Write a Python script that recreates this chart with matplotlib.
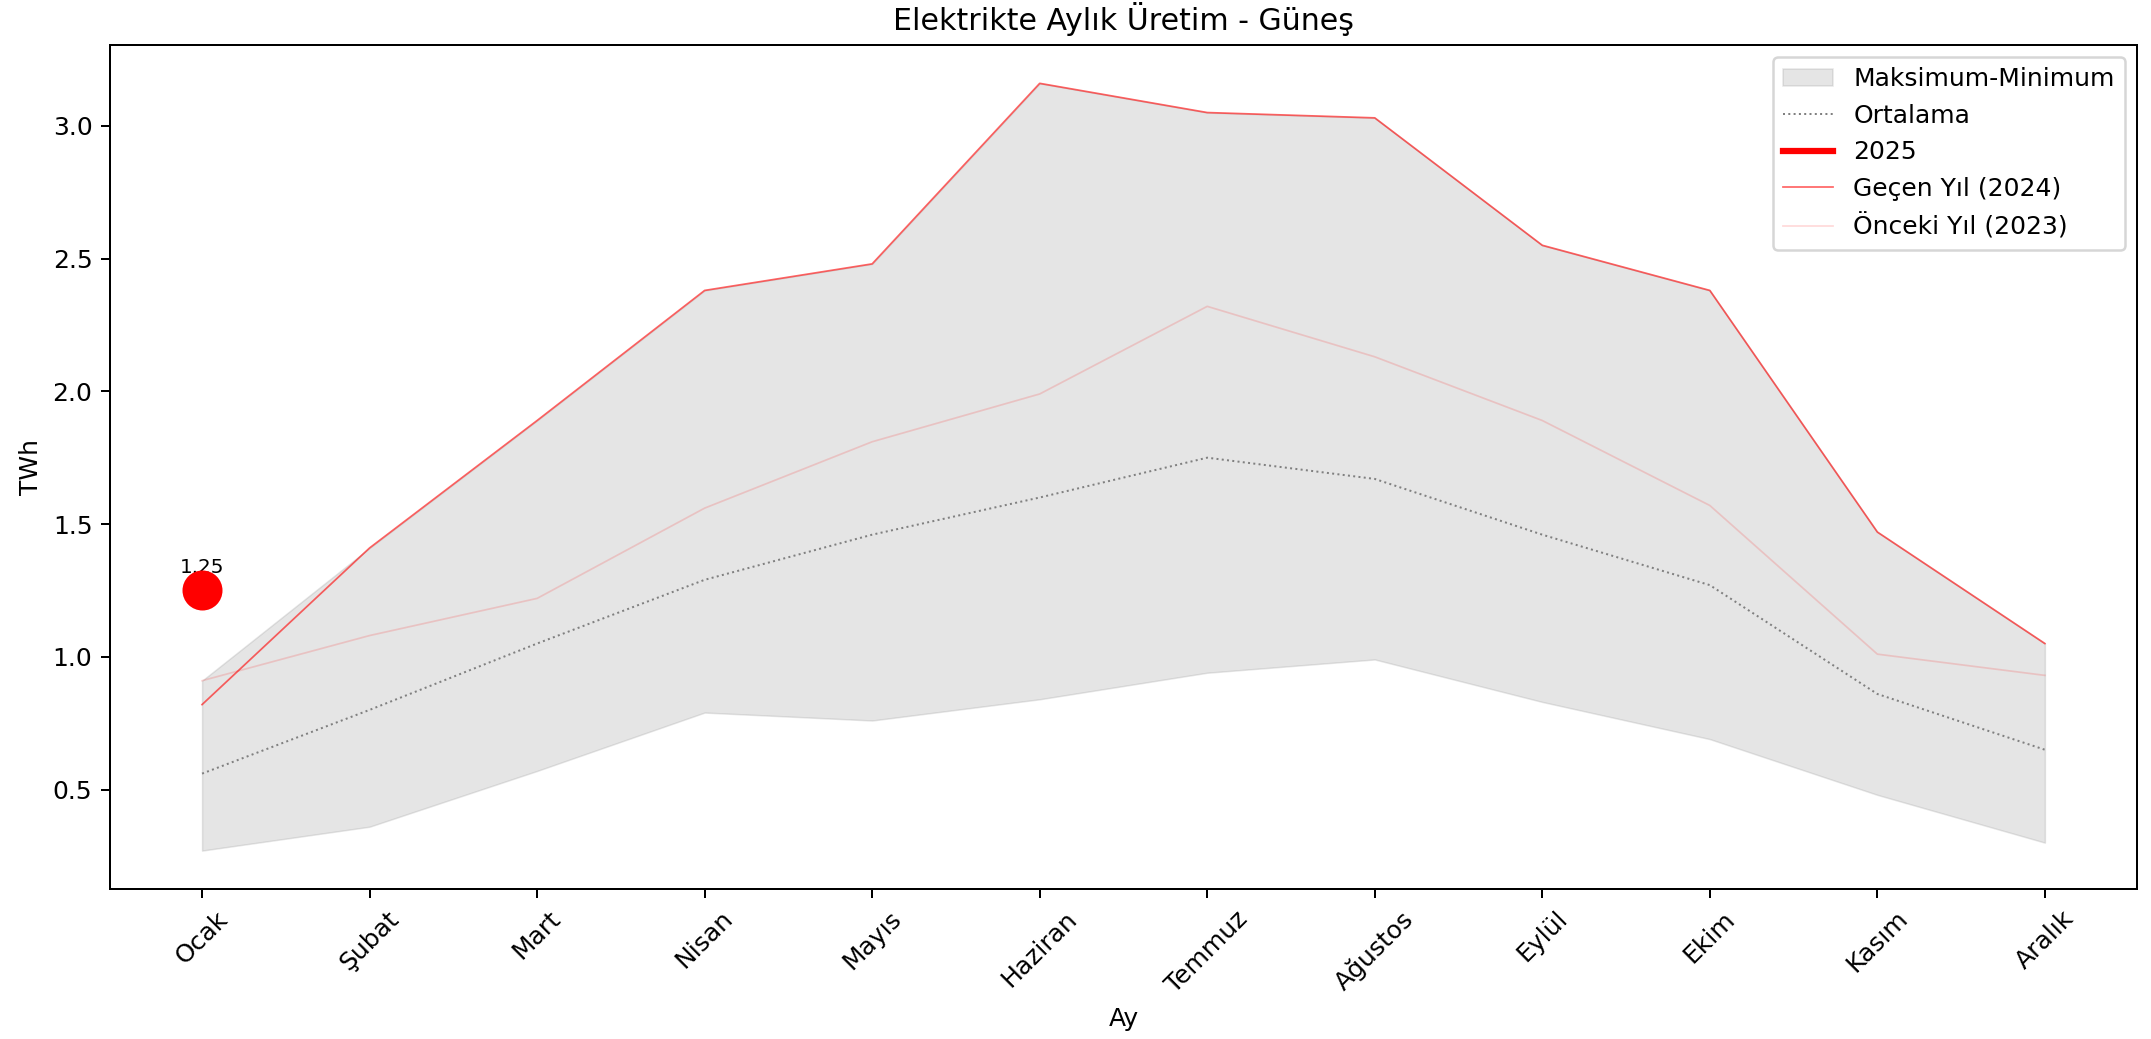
import matplotlib
matplotlib.use("Agg")
import matplotlib.pyplot as plt
import numpy as np

# Aylar
aylar = ['Ocak', 'Şubat', 'Mart', 'Nisan', 'Mayıs', 'Haziran',
         'Temmuz', 'Ağustos', 'Eylül', 'Ekim', 'Kasım', 'Aralık']

# Geçmiş yılların aralığı (TWh)
maksimum = [0.91, 1.41, 1.89, 2.38, 2.48, 3.16, 3.05, 3.03, 2.55, 2.38, 1.47, 1.05]
minimum = [0.27, 0.36, 0.57, 0.79, 0.76, 0.84, 0.94, 0.99, 0.83, 0.69, 0.48, 0.30]
ortalama = [0.56, 0.80, 1.05, 1.29, 1.46, 1.60, 1.75, 1.67, 1.46, 1.27, 0.86, 0.65]

# Yıllık seriler
yil_2025 = [1.25]
yil_2024 = [0.82, 1.41, 1.89, 2.38, 2.48, 3.16, 3.05, 3.03, 2.55, 2.38, 1.47, 1.05]
yil_2023 = [0.91, 1.08, 1.22, 1.56, 1.81, 1.99, 2.32, 2.13, 1.89, 1.57, 1.01, 0.93]

DPI = 180
fig, ax = plt.subplots(figsize=(2151 / DPI, 1039 / DPI), dpi=DPI)
fig.subplots_adjust(left=0.0511, right=0.9935, bottom=0.1444, top=0.9567)

x = np.arange(len(aylar))

ax.fill_between(x, minimum, maksimum, color='gray', alpha=0.2, linewidth=0.6,
                label='Maksimum-Minimum')
ax.plot(x, ortalama, color='gray', linestyle=':', linewidth=0.8, label='Ortalama')

x25 = x[:len(yil_2025)]
ax.plot(x25, yil_2025, color='red', linewidth=2.5, label='2025')
ax.plot(x, yil_2024, color='red', alpha=0.6, linewidth=0.7, label='Geçen Yıl (2024)')
ax.plot(x, yil_2023, color='red', alpha=0.15, linewidth=0.7, label='Önceki Yıl (2023)')

# son değer vurgusu
ax.scatter(x25[-1], yil_2025[-1], color='red', s=225, zorder=5)
ax.text(x25[-1], yil_2025[-1] + 0.05, f'{yil_2025[-1]:.2f}',
        ha='center', va='bottom', fontsize=8)

ax.set_xticks(x)
ax.set_xticklabels(aylar, rotation=45)
ax.set_title('Elektrikte Aylık Üretim - Güneş')
ax.set_xlabel('Ay')
ax.set_ylabel('TWh')
ax.legend(loc='upper right')

fig.savefig('out.png', dpi=DPI)
